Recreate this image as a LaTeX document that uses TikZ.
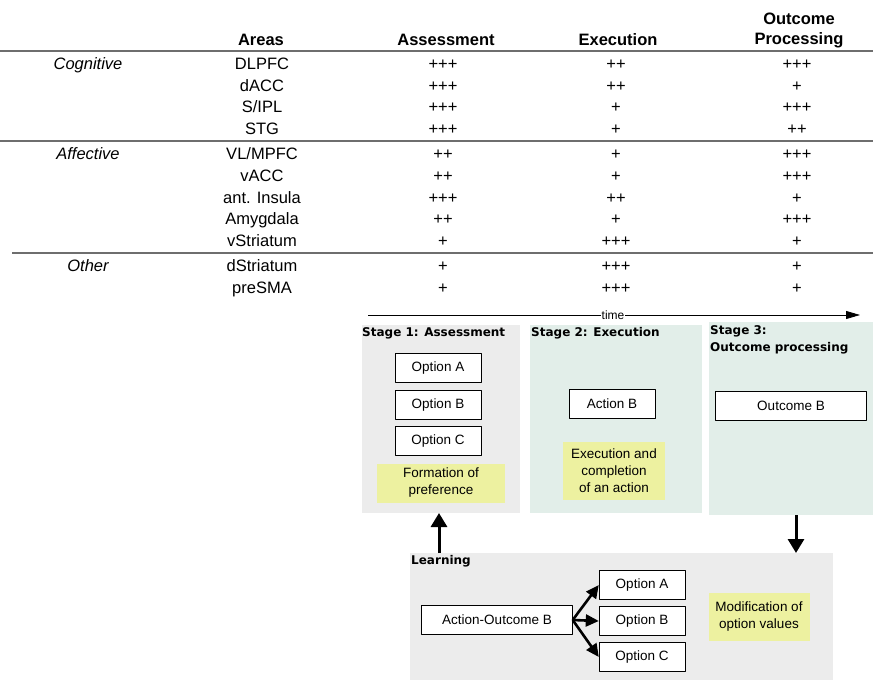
\documentclass[tikz,border=0pt]{standalone}
\usepackage{fontspec}
\setmainfont{Liberation Sans}
\newfontfamily\stagefont{DejaVu Sans}
\usetikzlibrary{arrows.meta,positioning}

\definecolor{boxgray}{RGB}{236,236,236}
\definecolor{boxteal}{RGB}{226,238,233}
\definecolor{noteyellow}{RGB}{237,241,160}
\definecolor{rulegray}{RGB}{110,110,110}

\tikzset{
  tabtext/.style={font=\fontsize{16.5}{20}\selectfont, inner sep=0pt, anchor=base},
  tabhead/.style={font=\fontsize{16.5}{20}\selectfont\bfseries, inner sep=0pt, align=center},
  tabrule/.style={draw=rulegray, line width=1.5pt},
  panel/.style={anchor=north west, inner sep=0pt, outer sep=0pt},
  paneltitle/.style={anchor=north west, inner sep=0pt, align=left, font=\stagefont\bfseries\fontsize{12}{17}\selectfont},
  optbox/.style={draw, fill=white, minimum width=86pt, minimum height=29pt, inner sep=0pt, font=\fontsize{13.5}{16}\selectfont},
  notebox/.style={fill=noteyellow, inner sep=0pt, align=center, font=\fontsize{13.5}{17}\selectfont},
  bigarrow/.style={line width=3pt, -{Triangle[length=14pt,width=16pt]}},
  fanarrow/.style={line width=2.6pt, -{Triangle[length=13pt,width=12pt]}}
}

\begin{document}
\begin{tikzpicture}[x=1pt,y=-1pt,line join=round]
\useasboundingbox (0,0) rectangle (873,680);

% table
\node[tabhead] (hArea) at (261,40) {Areas};
\node[tabhead] (hAss) at (446,40) {Assessment};
\node[tabhead] (hExe) at (618,40) {Execution};
\node[tabhead] (hOut) at (799,30) {Outcome\\Processing};
\draw[tabrule] (0,51) -- (873,51);
\draw[tabrule] (0,141) -- (873,141);
\draw[tabrule] (12,253) -- (873,253);
\node[tabtext,font=\fontsize{16.5}{20}\selectfont\itshape] (gCog) at (88,69) {Cognitive};
\node[tabtext,font=\fontsize{16.5}{20}\selectfont\itshape] (gAff) at (88,159) {Affective};
\node[tabtext,font=\fontsize{16.5}{20}\selectfont\itshape] (gOth) at (88,271) {Other};
\foreach \i/\y/\area/\a/\e/\o in {1/63/DLPFC/+++/++/+++, 2/85/dACC/+++/++/+,
    3/106/{S/IPL}/+++/+/+++, 4/128/STG/+++/+/++, 5/153/{VL/MPFC}/++/+/+++,
    6/175/vACC/++/+/+++, 7/197/ant. Insula/+++/++/+, 8/218/Amygdala/++/+/+++,
    9/240/vStriatum/+/+++/+, 10/265/dStriatum/+/+++/+, 11/287/preSMA/+/+++/+}
{
  \node[tabtext] (area\i) at (262,\y+6) {\area};
  \node[tabtext] (ass\i) at (443,\y+6) {\a};
  \node[tabtext] (exe\i) at (616,\y+6) {\e};
  \node[tabtext] (out\i) at (797,\y+6) {\o};
}

% time line
\path
(368,315) coordinate (tStart)
(860,315) coordinate (tEnd)
;
\draw[line width=0.8pt, -{Triangle[length=14pt,width=8pt]}] (tStart) -- (tEnd);
\node[fill=white, inner sep=0.5pt, font=\fontsize{12}{14}\selectfont] (time) at (613,315) {time};

% stages
\node[panel, fill=boxgray, minimum width=158pt, minimum height=188pt] (stage1) at (362,325) {};
\node[panel, fill=boxteal, minimum width=172pt, minimum height=188pt] (stage2) at (530,325) {};
\node[panel, fill=boxteal, minimum width=164pt, minimum height=193pt] (stage3) at (709,322) {};
\node[paneltitle] (s1title) at (362,327) {Stage 1: Assessment};
\node[paneltitle] (s2title) at (531,327) {Stage 2: Execution};
\node[paneltitle] (s3title) at (710,325) {Stage 3:\\Outcome processing};

\node[optbox] (optA) at (438,368) {Option A};
\node[optbox] (optB) at (438,405) {Option B};
\node[optbox] (optC) at (438,441) {Option C};
\node[notebox, minimum width=128pt, minimum height=39pt] (pref) at (441,483) {Formation of\\preference};

\node[optbox] (actB) at (612,404) {Action B};
\node[notebox, minimum width=102pt, minimum height=58pt] (exec) at (614,471) {Execution and\\completion\\of an action};

\node[optbox, minimum width=151pt] (outB) at (791,406) {Outcome B};

% learning
\node[panel, fill=boxgray, minimum width=423pt, minimum height=127pt] (learn) at (410,553) {};
\node[paneltitle] (ltitle) at (411,555) {Learning};
\node[optbox, minimum width=151pt] (ao) at (497,620) {Action-Outcome B};
\node[optbox] (lA) at (642,585) {Option A};
\node[optbox] (lB) at (642,621) {Option B};
\node[optbox] (lC) at (642,657) {Option C};
\node[notebox, minimum width=101pt, minimum height=48pt] (modif) at (759,617) {Modification of\\option values};

\draw[bigarrow] ([xshift=-2pt]stage1.south |- learn.north) -- ([xshift=-2pt]stage1.south);
\draw[bigarrow] ([xshift=5pt]stage3.south) -- ([xshift=5pt]stage3.south |- learn.north);
\draw[fanarrow] (ao.east) -- (lA.west);
\draw[fanarrow] (ao.east) -- (lB.west);
\draw[fanarrow] (ao.east) -- (lC.west);
\end{tikzpicture}
\end{document}
